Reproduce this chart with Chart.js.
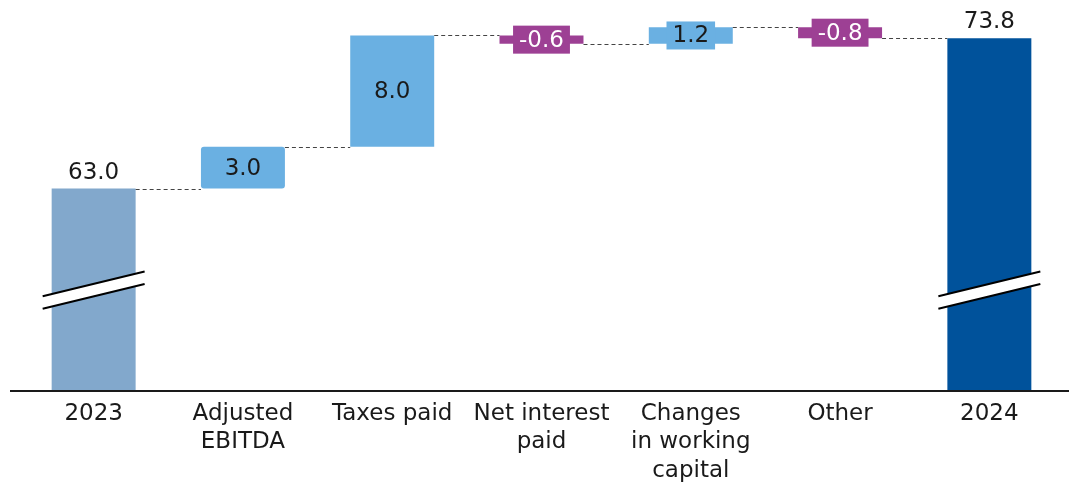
<!DOCTYPE html>
<html>
<head>
<meta charset="utf-8">
<script src="https://cdn.jsdelivr.net/npm/chart.js@4"></script>
<style>
  html, body { margin: 0; padding: 0; background: #fff; }
  #wrap { width: 1069px; height: 488px; position: relative; }
</style>
</head>
<body>
<div id="wrap"><canvas id="c" width="1069" height="488"></canvas></div>
<script>
// ---- data ----
const categories = [
  "2023",
  ["Adjusted", "EBITDA"],
  "Taxes paid",
  ["Net interest", "paid"],
  ["Changes", "in working", "capital"],
  "Other",
  "2024"
];
const values = [63.0, 3.0, 8.0, -0.6, 1.2, -0.8, 73.8];
const barKinds = ["total", "delta", "delta", "delta", "delta", "delta", "total"];
const valueLabels = ["63.0", "3.0", "8.0", "-0.6", "1.2", "-0.8", "73.8"];

// ---- styles ----
const AXIS_MIN = 48.44, AXIS_MAX = 76.55;
const FONT = "'DejaVu Sans', sans-serif";
const barColors = ["#82a8cc", "#6ab0e2", "#6ab0e2", "#9d4094", "#6ab0e2", "#9d4094", "#00529b"];
const labelColors = ["#1a1a1a", "#1a1a1a", "#1a1a1a", "#ffffff", "#1a1a1a", "#ffffff", "#1a1a1a"];

// floating ranges from running totals
const ranges = [];
let running = 0;
values.forEach((v, i) => {
  if (barKinds[i] === "total") {
    ranges.push([AXIS_MIN, v]);
    running = v;
  } else {
    ranges.push([running, running + v]);
    running = running + v;
  }
});

const waterfallPlugin = {
  id: "waterfall",
  afterDatasetsDraw(chart) {
    const ctx = chart.ctx;
    const meta = chart.getDatasetMeta(0);
    const ys = chart.scales.y;
    const ca = chart.chartArea;
    ctx.save();

    // connectors
    ctx.strokeStyle = "#444";
    ctx.lineWidth = 1;
    ctx.setLineDash([4, 3]);
    for (let i = 0; i < meta.data.length - 1; i++) {
      const a = meta.data[i], b = meta.data[i + 1];
      const level = ranges[i][1];
      const y = Math.round(ys.getPixelForValue(level)) + 0.5;
      ctx.beginPath();
      ctx.moveTo(a.x + a.width / 2, y);
      ctx.lineTo(b.x - b.width / 2, y);
      ctx.stroke();
    }
    ctx.setLineDash([]);

    // axis break markers on totals
    meta.data.forEach((el, i) => {
      if (barKinds[i] !== "total") return;
      const cx = el.x;
      const cy = ca.bottom - 101;
      const hw = el.width / 2 + 9;
      const slope = 24 / 99;
      const gap = 12.5;
      const x0 = cx - hw, x1 = cx + hw;
      const yu0 = cy + slope * hw - gap / 2, yu1 = cy - slope * hw - gap / 2;
      const yl0 = yu0 + gap, yl1 = yu1 + gap;
      ctx.fillStyle = "#ffffff";
      ctx.beginPath();
      ctx.moveTo(x0, yu0); ctx.lineTo(x1, yu1); ctx.lineTo(x1, yl1); ctx.lineTo(x0, yl0);
      ctx.closePath();
      ctx.fill();
      ctx.strokeStyle = "#000";
      ctx.lineWidth = 2;
      ctx.beginPath();
      ctx.moveTo(x0, yu0); ctx.lineTo(x1, yu1);
      ctx.moveTo(x0, yl0); ctx.lineTo(x1, yl1);
      ctx.stroke();
    });

    // value labels
    ctx.font = "23px " + FONT;
    ctx.textAlign = "center";
    meta.data.forEach((el, i) => {
      const top = Math.min(el.y, el.base);
      const bot = Math.max(el.y, el.base);
      const h = bot - top;
      const txt = valueLabels[i];
      if (barKinds[i] === "total") {
        ctx.fillStyle = labelColors[i];
        ctx.textBaseline = "alphabetic";
        ctx.fillText(txt, el.x, top - 10);
      } else if (h < 30) {
        const tw = ctx.measureText(txt).width;
        const bw = tw + 12, bh = 28;
        const cy = (top + bot) / 2;
        ctx.fillStyle = barColors[i];
        ctx.fillRect(el.x - bw / 2, cy - bh / 2, bw, bh);
        ctx.fillStyle = labelColors[i];
        ctx.textBaseline = "middle";
        ctx.fillText(txt, el.x, cy + 1);
      } else {
        ctx.fillStyle = labelColors[i];
        ctx.textBaseline = "middle";
        ctx.fillText(txt, el.x, (top + bot) / 2 + 1);
      }
    });

    // baseline axis line
    ctx.strokeStyle = "#1a1a1a";
    ctx.lineWidth = 2;
    ctx.beginPath();
    ctx.moveTo(10, ca.bottom);
    ctx.lineTo(1069, ca.bottom);
    ctx.stroke();
    ctx.restore();
  }
};

new Chart(document.getElementById("c"), {
  type: "bar",
  data: {
    labels: categories,
    datasets: [{
      data: ranges,
      backgroundColor: barColors,
      borderWidth: 0,
      borderSkipped: false,
      borderRadius: (c) => (c.dataIndex === 1 ? 3 : 0),
      categoryPercentage: 1,
      barPercentage: 0.5625
    }]
  },
  options: {
    responsive: false,
    animation: false,
    devicePixelRatio: 1,
    layout: { padding: { left: 19, right: 5, top: 0, bottom: -6 } },
    plugins: { legend: { display: false }, tooltip: { enabled: false } },
    scales: {
      y: {
        display: false,
        min: AXIS_MIN,
        max: AXIS_MAX
      },
      x: {
        grid: { display: false, drawTicks: false },
        border: { display: false },
        ticks: {
          color: "#1a1a1a",
          font: { family: FONT, size: 23, lineHeight: 1.26 },
          padding: 8,
          maxRotation: 0,
          autoSkip: false
        }
      }
    }
  },
  plugins: [waterfallPlugin]
});
</script>
</body>
</html>
